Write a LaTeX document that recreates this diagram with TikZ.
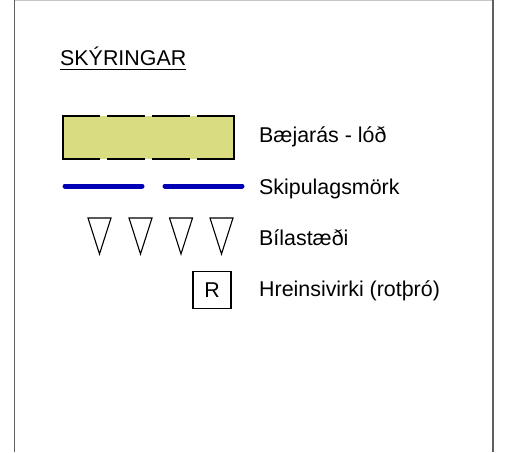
\documentclass[tikz,border=0pt]{standalone}
\usepackage{fontspec}
\setmainfont{Liberation Sans}
\definecolor{lotfill}{RGB}{218,220,130}
\definecolor{planblue}{RGB}{0,0,180}
\begin{document}
\begin{tikzpicture}[x=1pt,y=-1pt,
  lbl/.style={anchor=base west,inner sep=0pt,font=\fontsize{21.4}{24}\selectfont},
  frameline/.style={draw=gray!75!black,line width=1.5pt},
  lotedge/.style={line width=2.2pt},
  boundary/.style={draw=planblue,line width=5pt,line cap=round},
  parking/.style={draw=black,line width=1.1pt,line join=miter},
  rbox/.style={draw=black,line width=1.1pt,minimum width=38pt,minimum height=37pt,inner sep=0pt,font=\fontsize{21.4}{24}\selectfont}]
\useasboundingbox (0,0) rectangle (513,452);
\fill[white] (0,0) rectangle (513,452);
% frame
\draw[gray!45,line width=1pt] (14.5,0.6) -- (493,0.6);
\draw[frameline] (14.5,0) -- (14.5,452);
\draw[frameline] (493,0) -- (493,452);
% title
\node[lbl] (title) at (60,65) {SKÝRINGAR};
\draw[line width=1.3pt] ([yshift=-4.5pt]title.base west) -- ([yshift=-4.5pt]title.base east);
% lot symbol
\fill[lotfill] (63,116) rectangle (234,159);
\draw[lotedge] (63,116) -- (63,159);
\draw[lotedge] (234,116) -- (234,159);
\draw[lotedge,dash pattern=on 37.5pt off 7.5pt] (62,116) -- (235,116);
\draw[lotedge,dash pattern=on 37.5pt off 7.5pt] (62,159) -- (235,159);
\node[lbl] (l1) at (259,142) {Bæjarás - lóð};
% boundary
\draw[boundary] (65,186) -- (142,186);
\draw[boundary] (165,186) -- (242,186);
\node[lbl] (l2) at (259,194) {Skipulagsmörk};
% parking
\foreach \cx in {99.5,140.5,181,221.5}{
  \draw[parking] (\cx-11.5,218) -- (\cx+11.5,218) -- (\cx,254) -- cycle;
}
\node[lbl] (l3) at (259,245) {Bílastæði};
% treatment
\node[rbox] (r) at (212,290) {R};
\node[lbl] (l4) at (259,296) {Hreinsivirki (rotþró)};
\end{tikzpicture}
\end{document}
